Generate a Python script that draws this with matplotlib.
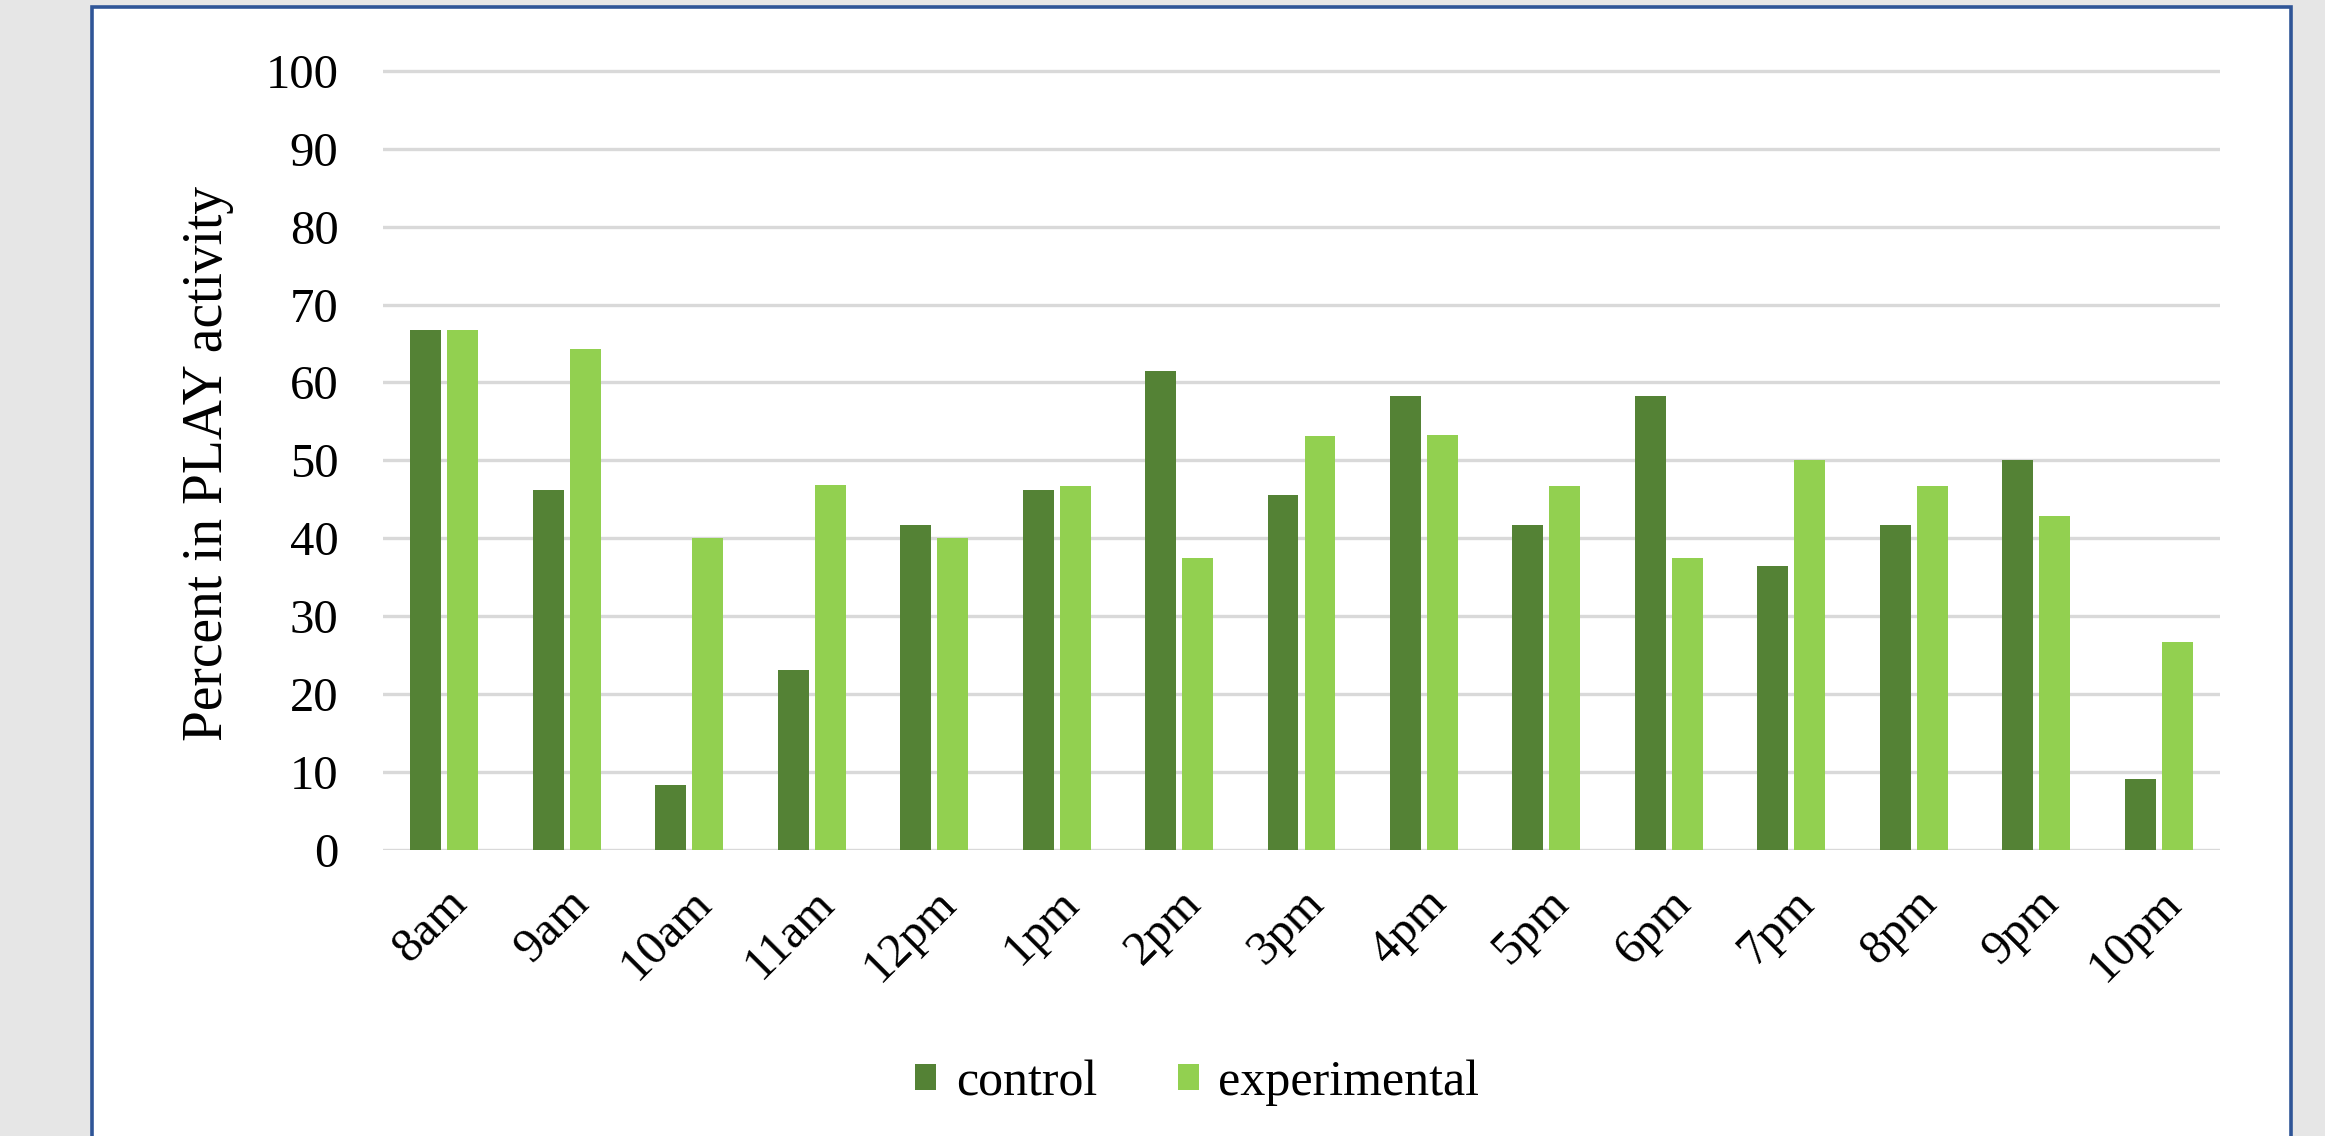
import numpy as np
import matplotlib
matplotlib.use('Agg')
import matplotlib.pyplot as plt
from matplotlib.patches import Rectangle

hours = ['8am', '9am', '10am', '11am', '12pm', '1pm', '2pm', '3pm',
         '4pm', '5pm', '6pm', '7pm', '8pm', '9pm', '10pm']
control = [66.7, 46.2, 8.3, 23.1, 41.7, 46.2, 61.5, 45.5,
           58.3, 41.7, 58.3, 36.4, 41.7, 50.0, 9.1]
experimental = [66.7, 64.3, 40.0, 46.9, 40.0, 46.7, 37.5, 53.1,
                53.3, 46.7, 37.5, 50.0, 46.7, 42.9, 26.7]

plt.rcParams['font.family'] = ['Liberation Serif', 'DejaVu Serif']

fig = plt.figure(figsize=(23.25, 11.36), dpi=100)
fig.patch.set_facecolor('#E6E6E6')

# white panel with blue frame (runs off the bottom)
panel = Rectangle((92 / 2325, -0.05), (2291 - 92) / 2325, 1.05 - 7 / 1136,
                  transform=fig.transFigure, facecolor='white',
                  edgecolor='#2F5597', linewidth=2.6, zorder=-5)
fig.patches.append(panel)

ax = fig.add_axes([383 / 2325, 1 - 850 / 1136, (2220 - 383) / 2325, (850 - 63) / 1136])
ax.set_facecolor('none')
ax.set_zorder(2)

x = np.arange(len(hours))
w = 0.253
off = 0.151
ax.bar(x - off, control, w, color='#548235', label='control', zorder=3)
ax.bar(x + off, experimental, w, color='#92D050', label='experimental', zorder=3)

ax.set_xlim(-0.5, len(hours) - 0.5)
ax.set_ylim(0, 101)
ax.set_yticks(np.arange(0, 101, 10))
ax.yaxis.grid(True, color='#D9D9D9', linewidth=2.4, zorder=0)
ax.set_axisbelow(True)
for s in ax.spines.values():
    s.set_visible(False)
ax.tick_params(axis='both', length=0, labelsize=35)
ax.tick_params(axis='y', pad=32)
ax.set_xticks(x)
ax.set_xticklabels(hours, rotation=45, ha='right', rotation_mode='anchor')
ax.tick_params(axis='x', pad=22)

fig.text(208 / 2325, 1 - 463 / 1136, 'Percent in PLAY activity', rotation=90,
         ha='center', va='center', fontsize=40)

fig.legend(loc='center', bbox_to_anchor=(0.515, 1 - 1083 / 1136), ncol=2,
           frameon=False, fontsize=36, handlelength=0.42, handleheight=0.42,
           handletextpad=0.4, columnspacing=1.6)

fig.savefig('out.png', dpi=100, facecolor=fig.get_facecolor())
